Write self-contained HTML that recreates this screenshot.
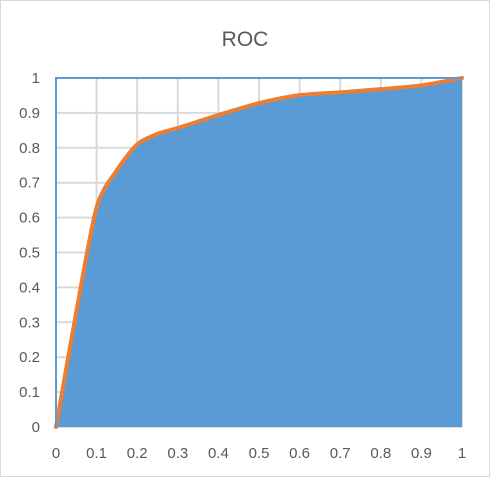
<!DOCTYPE html>
<html><head><meta charset="utf-8"><style>
html,body{margin:0;padding:0;background:#fff}
svg{display:block;font-family:"Liberation Sans",sans-serif}
</style></head><body>
<svg id="chart" width="490" height="477">
<rect x="0.5" y="0.5" width="489" height="476" fill="#fff" stroke="#d9d9d9"/>
<text x="245" y="46" text-anchor="middle" font-size="21" fill="#595959">ROC</text>
<g id="grid"></g><g id="series"></g><g id="axes"></g>
</svg>
<script>
const fprValues=[0,0.05,0.1,0.15,0.2,0.25,0.3,0.4,0.5,0.6,0.7,0.8,0.9,1];
const tprValues=[0,0.33,0.63,0.736,0.81,0.84,0.857,0.894,0.928,0.951,0.959,0.968,0.979,1];
const xTicks=[0,0.1,0.2,0.3,0.4,0.5,0.6,0.7,0.8,0.9,1];
const yTicks=[0,0.1,0.2,0.3,0.4,0.5,0.6,0.7,0.8,0.9,1];
const L=56,R=462,T=78,B=427;
const sx=v=>L+v*(R-L), sy=v=>B-v*(B-T);
const NS="http://www.w3.org/2000/svg";
function mk(tag,attrs,parent){const e=document.createElementNS(NS,tag);for(const k in attrs)e.setAttribute(k,attrs[k]);parent.appendChild(e);return e;}
const grid=document.getElementById('grid'),ser=document.getElementById('series'),axes=document.getElementById('axes');
xTicks.forEach(t=>{
 const l=mk('line',{x1:sx(t),x2:sx(t),y1:T,y2:B,stroke:'#d9d9d9','stroke-width':2},grid);
 
 
 const tx=mk('text',{x:sx(t),y:B+31,'text-anchor':'middle','font-size':15,fill:'#595959'},axes);
 tx.textContent=String(t);
 
 
});
yTicks.forEach(t=>{
 const l=mk('line',{x1:L,x2:R,y1:sy(t),y2:sy(t),stroke:'#d9d9d9','stroke-width':2},grid);
 
 
 const tx=mk('text',{x:40,y:sy(t)+5,'text-anchor':'end','font-size':15,fill:'#595959'},axes);
 tx.textContent=String(t);
 
 
});
const pts=fprValues.map((v,i)=>[sx(v),sy(tprValues[i])]);
function smooth(p){let d=`M${p[0][0]},${p[0][1]}`;for(let i=0;i<p.length-1;i++){const p0=p[Math.max(i-1,0)],p1=p[i],p2=p[i+1],p3=p[Math.min(i+2,p.length-1)];const t=0.13;d+=` C${p1[0]+(p2[0]-p0[0])*t},${p1[1]+(p2[1]-p0[1])*t} ${p2[0]-(p3[0]-p1[0])*t},${p2[1]-(p3[1]-p1[1])*t} ${p2[0]},${p2[1]}`;}return d;}
const d=smooth(pts);
const area=mk('path',{d:d+` L${sx(1)},${sy(0)} L${sx(0)},${sy(0)} Z`,fill:'#5b9bd5'},ser);


const line=mk('path',{d:d,fill:'none',stroke:'#ed7d31','stroke-width':4,'stroke-linejoin':'round','stroke-linecap':'round'},ser);


const frame=mk('path',{d:`M${L},${B} L${L},${T} L${R},${T}`,fill:'none',stroke:'#5b9bd5','stroke-width':2},axes);


</script>
</body></html>
